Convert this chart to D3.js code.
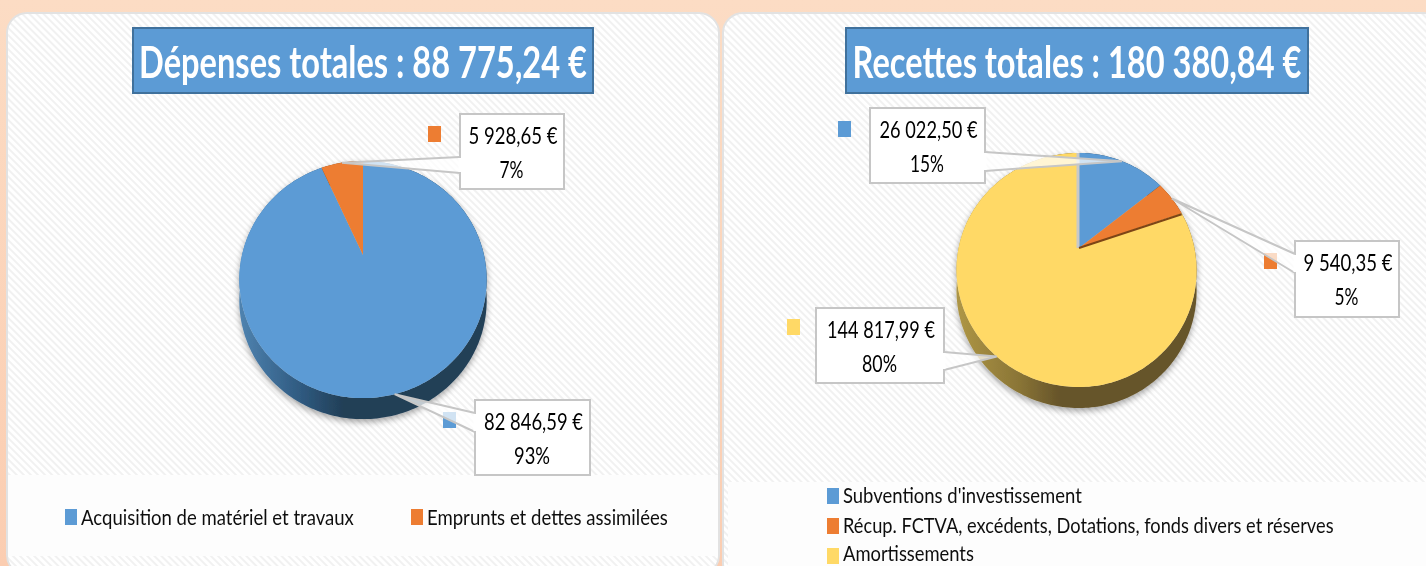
<!DOCTYPE html>
<html>
<head>
<meta charset="utf-8">
<script src="https://cdn.jsdelivr.net/npm/d3@7"></script>
<style>
html, body { margin:0; padding:0; background:#fbd9c0; overflow:hidden; }
text { font-family:Lato, "Open Sans", sans-serif; }
</style>
</head>
<body>
<div id="plot"></div>
<script>
// left chart
var depTitle = 'Dépenses totales : 88 775,24 €';
var depCategories = ['Acquisition de matériel et travaux', 'Emprunts et dettes assimilées'];
var depValues = [82846.59, 5928.65];
var depValueLabels = ['82 846,59 €', '5 928,65 €'];
var depPctLabels = ['93%', '7%'];

// right chart
var recTitle = 'Recettes totales : 180 380,84 €';
var recCategories = ['Subventions d\'investissement', 'Récup. FCTVA, excédents, Dotations, fonds divers et réserves', 'Amortissements'];
var recValues = [26022.50, 9540.35, 144817.99];
var recValueLabels = ['26 022,50 €', '9 540,35 €', '144 817,99 €'];
var recPctLabels = ['15%', '5%', '80%'];

var svg = d3.select('#plot').append('svg')
	.attr('width', 1426)
	.attr('height', 566);
var defs = svg.append('defs');

var page = defs.append('linearGradient').attr('id', 'page')
	.attr('x1', 0).attr('y1', 0).attr('x2', 0).attr('y2', 1);
page.append('stop').attr('offset', 0).attr('stop-color', '#fcdcc4');
page.append('stop').attr('offset', 1).attr('stop-color', '#fbcdb1');

// the fine diagonal hatching of the panels
var hatch = defs.append('pattern').attr('id', 'hatch')
	.attr('width', 5).attr('height', 5)
	.attr('patternUnits', 'userSpaceOnUse')
	.attr('patternTransform', 'rotate(-45)');
hatch.append('rect').attr('width', 5).attr('height', 5).attr('fill', '#ffffff');
hatch.append('rect').attr('width', 2).attr('height', 5).attr('fill', '#f1f1f1');

var shadow = defs.append('filter').attr('id', 'pieShadow')
	.attr('x', '-20%').attr('y', '-20%').attr('width', '140%').attr('height', '140%');
shadow.append('feDropShadow')
	.attr('dx', 0).attr('dy', 3).attr('stdDeviation', 3)
	.attr('flood-color', '#000').attr('flood-opacity', 0.35);

var soft = defs.append('filter').attr('id', 'soft');
soft.append('feGaussianBlur').attr('stdDeviation', 0.4);

svg.append('rect').attr('width', 1426).attr('height', 566).attr('fill', 'url(#page)');

var sliceColors = ['#5b9bd5', '#ed7d31', '#ffd966'];
var wallColors = [
	['#4f83b0', '#2f5a80', '#223f57'],
	['#a85a20', '#8a4a1a', '#6e3a14'],
	['#ad9545', '#8a7536', '#66542a']
];

function panel(x, y, w, h, legendX, legendY, legendW, legendH) {
	svg.append('rect')
		.attr('x', x).attr('y', y).attr('width', w).attr('height', h)
		.attr('rx', 20).attr('ry', 20)
		.attr('fill', 'url(#hatch)')
		.attr('stroke', '#e2e2e2').attr('stroke-width', 2);
	svg.append('rect')
		.attr('x', legendX).attr('y', legendY).attr('width', legendW).attr('height', legendH)
		.attr('fill', '#fdfdfd');
}

// the reference text is condensed: squeeze each string to the width it has there
function fitText(parent, str, x, y, width, size, anchor, color, weight) {
	var t = parent.append('text')
		.attr('text-anchor', anchor)
		.attr('font-size', size)
		.attr('font-weight', weight || 400)
		.attr('fill', color)
		.text(str);
	var sx = width / t.node().getComputedTextLength();
	t.attr('transform', 'translate(' + x + ',' + y + ') scale(' + sx + ',1)');
	return t;
}

function pieChart(opt) {
	var g = svg.append('g').attr('filter', 'url(#soft)');
	var id = opt.id;

	// title
	g.append('rect')
		.attr('x', opt.titleBox[0]).attr('y', opt.titleBox[1])
		.attr('width', opt.titleBox[2]).attr('height', opt.titleBox[3])
		.attr('fill', '#5b9bd5').attr('stroke', '#41719c').attr('stroke-width', 2);
	fitText(g, opt.title, opt.titleBox[0] + opt.titleBox[2] / 2, opt.titleBox[1] + 50,
		opt.titleW, 44, 'middle', '#fff', 700);

	// perspective view of the disc: the centre sits above the middle of the ellipse
	var k = opt.k, A = opt.A, B = opt.B, cx = opt.cx, cy = opt.cy;
	function project(a, r) {
		var u = r * Math.sin(a), v = -r * Math.cos(a), w = 1 + k * v;
		return [cx + B * u / w - opt.shift * Math.abs(u), cy + A * v / w];
	}
	function rim(s) {
		var n = Math.max(2, Math.ceil((s.endAngle - s.startAngle) / 0.02));
		return d3.range(n + 1).map(function(i) {
			return project(s.startAngle + (s.endAngle - s.startAngle) * i / n, 1);
		});
	}

	var slices = d3.pie().sort(null)(opt.values);
	var line = d3.line();
	var pieG = g.append('g').attr('filter', 'url(#pieShadow)');

	slices.forEach(function(s, i) {
		var grad = defs.append('linearGradient').attr('id', id + 'wall' + i)
			.attr('gradientUnits', 'userSpaceOnUse')
			.attr('x1', cx - opt.rx).attr('y1', 0)
			.attr('x2', cx + opt.rx).attr('y2', 0);
		grad.append('stop').attr('offset', 0).attr('stop-color', wallColors[i][0]);
		grad.append('stop').attr('offset', 0.25).attr('stop-color', wallColors[i][1]);
		grad.append('stop').attr('offset', 0.42).attr('stop-color', wallColors[i][2]);
		grad.append('stop').attr('offset', 1).attr('stop-color', wallColors[i][2]);
		var top = rim(s);
		var bottom = top.map(function(p) { return [p[0], p[1] + opt.depth]; }).reverse();
		pieG.append('path')
			.attr('d', line(top.concat(bottom)) + 'Z')
			.attr('fill', 'url(#' + id + 'wall' + i + ')');
	});

	slices.forEach(function(s, i) {
		pieG.append('path')
			.attr('d', line([[cx, cy]].concat(rim(s))) + 'Z')
			.attr('fill', sliceColors[i]);
	});

	// slice edges showing where the disc is split
	if (opt.edges) {
		opt.edges.forEach(function(e) {
			var a = e.slice === -1 ? 0 : slices[e.slice].endAngle;
			var p = project(a, 1);
			pieG.append('line')
				.attr('x1', cx + (e.dx || 0)).attr('y1', cy)
				.attr('x2', p[0] + (e.dx || 0)).attr('y2', p[1] + (e.dy || 0))
				.attr('stroke', e.color).attr('stroke-width', e.width);
		});
	}

	// keys next to the callouts, then the callouts
	slices.forEach(function(s, i) {
		var key = opt.keys[i];
		g.append('rect')
			.attr('x', key[0]).attr('y', key[1]).attr('width', 13).attr('height', 16)
			.attr('fill', sliceColors[i]);
	});

	slices.forEach(function(s, i) {
		var b = opt.boxes[i];
		var tip = project((s.startAngle + s.endAngle) / 2, 1);
		var baseX = b.side === 'left' ? b.x : b.x + b.w;
		g.append('rect')
			.attr('x', b.x).attr('y', b.y).attr('width', b.w).attr('height', b.h)
			.attr('fill', '#fff')
			.attr('stroke', '#c6c6c6').attr('stroke-width', 2);
		g.append('path')
			.attr('d', line([[baseX, b.y0], tip, [baseX, b.y1]]) + 'Z')
			.attr('fill', '#fff').attr('fill-opacity', 0.72);
		g.append('path')
			.attr('d', line([[baseX, b.y0], tip, [baseX, b.y1]]))
			.attr('fill', 'none')
			.attr('stroke', '#c6c6c6').attr('stroke-width', 2);
		g.append('line')
			.attr('x1', baseX).attr('x2', baseX).attr('y1', b.y0 + 1).attr('y2', b.y1 - 1)
			.attr('stroke', '#fff').attr('stroke-width', 3);
		fitText(g, opt.valueLabels[i], b.x + b.w / 2 + 1, b.y + 29.5, b.w0, 23, 'middle', '#000');
		fitText(g, opt.pctLabels[i], b.x + b.w / 2 - 0.5, b.y + 64, b.w1, 23, 'middle', '#000');
	});

	// legend
	opt.categories.forEach(function(c, i) {
		var l = opt.legend[i];
		g.append('rect')
			.attr('x', l.x).attr('y', l.keyY).attr('width', 12).attr('height', 16)
			.attr('fill', sliceColors[i]);
		fitText(g, c, l.x + 16, l.y, l.w, 22, 'start', '#111');
	});
}

panel(7, 13, 712, 562, 8, 475, 710, 81);
panel(723, 13, 720, 570, 728, 482, 698, 84);

pieChart({
	id:'dep',
	title:depTitle, titleBox:[133, 28, 460, 65], titleW:448,
	values:depValues, categories:depCategories,
	valueLabels:depValueLabels, pctLabels:depPctLabels,
	cx:363, cy:255, k:-0.207, A:113.5, B:121, rx:124, depth:21, shift:0,
	boxes:[
		{x:475, y:400, w:115, h:75, side:'left', y0:413, y1:432, w0:99, w1:36},
		{x:460, y:114, w:104, h:75, side:'left', y0:157, y1:173, w0:89, w1:24}
	],
	keys:[[443, 412], [428, 126]],
	legend:[{x:65, y:525, keyY:509, w:273}, {x:411, y:525, keyY:509, w:241}]
});

pieChart({
	id:'rec',
	title:recTitle, titleBox:[846, 28, 462, 65], titleW:449,
	values:recValues, categories:recCategories,
	valueLabels:recValueLabels, pctLabels:recPctLabels,
	cx:1079, cy:248, k:-0.188, A:112.9, B:117.9, rx:120, depth:21, shift:2.5,
	edges:[
		{slice:-1, dx:-1, color:'#c9c9c9', width:3},
		{slice:1, dy:1, color:'#7d4416', width:2}
	],
	boxes:[
		{x:870, y:108, w:115, h:75, side:'right', y0:152, y1:171, w0:98, w1:34},
		{x:1295, y:241, w:104, h:76, side:'left', y0:254, y1:273, w0:89, w1:24},
		{x:816, y:308, w:128, h:75, side:'right', y0:352, y1:370, w0:108, w1:35}
	],
	keys:[[838, 121], [1264, 253], [787, 319]],
	legend:[{x:827, y:503, keyY:488, w:239}, {x:827, y:533, keyY:518, w:491}, {x:827, y:561, keyY:548, w:131}]
});
</script>
</body>
</html>
